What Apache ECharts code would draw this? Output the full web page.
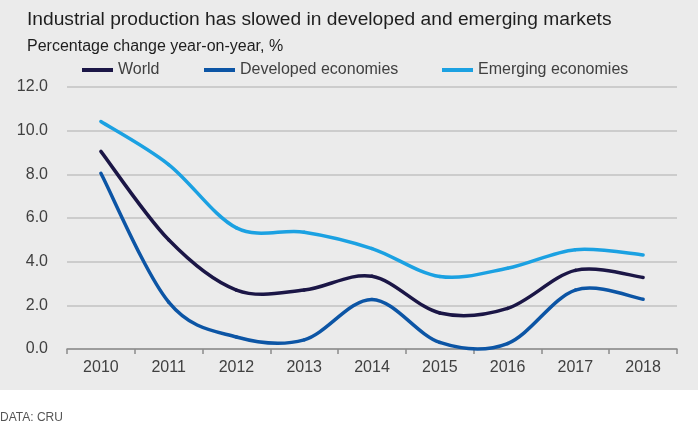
<!DOCTYPE html>
<html>
<head>
<meta charset="utf-8">
<script src="https://cdn.jsdelivr.net/npm/echarts@6/dist/echarts.min.js"></script>
<style>
  html, body { margin: 0; padding: 0; background: #ffffff; }
  #chart { width: 698px; height: 425px; }
</style>
</head>
<body>
<div id="chart"></div>
<script>
// Data
const years = ["2010", "2011", "2012", "2013", "2014", "2015", "2016", "2017", "2018"];
const world = [9.05, 5.0, 2.7, 2.7, 3.33, 1.65, 1.86, 3.6, 3.28];
const developed = [8.05, 2.15, 0.55, 0.42, 2.27, 0.3, 0.25, 2.7, 2.28];
const emerging = [10.42, 8.45, 5.55, 5.35, 4.6, 3.32, 3.7, 4.55, 4.31];
const yTicks = { min: 0, max: 12, interval: 2 };

const colors = {
  world: "#1b1646",
  developed: "#0c55a5",
  emerging: "#1ba1e2",
};

const chart = echarts.init(document.getElementById("chart"));

// smooth curve like the spreadsheet one: catmull-rom segments through the points
const curveSeries = (name, values, color, z) => ({
  name: name,
  type: "custom",
  data: values.map((v, i) => [i, v]),
  encode: { x: 0, y: 1 },
  itemStyle: { color: color },
  z: z,
  renderItem: (params, api) => {
    const i = params.dataIndex;
    if (i >= values.length - 1) return null;
    const p = (k) => {
      const j = Math.max(0, Math.min(values.length - 1, k));
      return api.coord([j, values[j]]);
    };
    const p0 = p(i - 1), p1 = p(i), p2 = p(i + 1), p3 = p(i + 2);
    return {
      type: "bezierCurve",
      shape: {
        x1: p1[0], y1: p1[1],
        x2: p2[0], y2: p2[1],
        cpx1: p1[0] + (p2[0] - p0[0]) / 6,
        cpy1: p1[1] + (p2[1] - p0[1]) / 6,
        cpx2: p2[0] - (p3[0] - p1[0]) / 6,
        cpy2: p2[1] - (p3[1] - p1[1]) / 6,
      },
      style: { fill: null, stroke: color, lineWidth: 3.5, lineCap: "round" },
    };
  },
});

const legendBase = {
  top: 62,
  padding: 0,
  icon: "rect",
  itemWidth: 31,
  itemHeight: 4,
  textStyle: { fontFamily: "Liberation Sans", fontSize: 16, color: "#404040" },
  selectedMode: false,
};

const option = {
  backgroundColor: "transparent",
  animation: false,
  title: [
    {
      text: "Industrial production has slowed in developed and emerging markets",
      left: 22,
      top: 5,
      textStyle: { fontFamily: "Liberation Sans", fontSize: 19.2, fontWeight: "normal", color: "#1e1e1e" },
    },
    {
      text: "Percentage change year-on-year, %",
      left: 22,
      top: 34,
      textStyle: { fontFamily: "Liberation Sans", fontSize: 16, fontWeight: "normal", color: "#1e1e1e" },
    },
  ],
  legend: [
    Object.assign({}, legendBase, { left: 82, data: ["World"] }),
    Object.assign({}, legendBase, { left: 204, data: ["Developed economies"] }),
    Object.assign({}, legendBase, { left: 442, data: ["Emerging economies"] }),
  ],
  graphic: [
    {
      type: "rect",
      z: -10,
      shape: { x: 0, y: 0, width: 698, height: 390 },
      style: { fill: "#ebebeb" },
    },
    {
      type: "text",
      left: 0,
      top: 412,
      style: { text: "DATA: CRU", fontFamily: "Liberation Sans", fontSize: 12, fill: "#555555" },
    },
  ],
  grid: { left: 67, right: 21, top: 87, bottom: 76 },
  xAxis: {
    type: "category",
    data: years,
    boundaryGap: true,
    axisLine: { lineStyle: { color: "#8c8c8c", width: 1.5 } },
    axisTick: { show: true, length: 5, lineStyle: { color: "#8c8c8c", width: 1.5 } },
    axisLabel: { fontFamily: "Liberation Sans", fontSize: 16, color: "#404040", margin: 11 },
  },
  yAxis: {
    type: "value",
    min: yTicks.min,
    max: yTicks.max,
    interval: yTicks.interval,
    axisLine: { show: false },
    axisTick: { show: false },
    axisLabel: {
      fontFamily: "Liberation Sans",
      fontSize: 16,
      color: "#404040",
      margin: 19,
      formatter: (v) => v.toFixed(1),
    },
    splitLine: { lineStyle: { color: "#c2c2c2", width: 1.5 } },
  },
  series: [
    curveSeries("World", world, colors.world, 3),
    curveSeries("Developed economies", developed, colors.developed, 2),
    curveSeries("Emerging economies", emerging, colors.emerging, 2),
  ],
};

chart.setOption(option);
</script>
</body>
</html>
